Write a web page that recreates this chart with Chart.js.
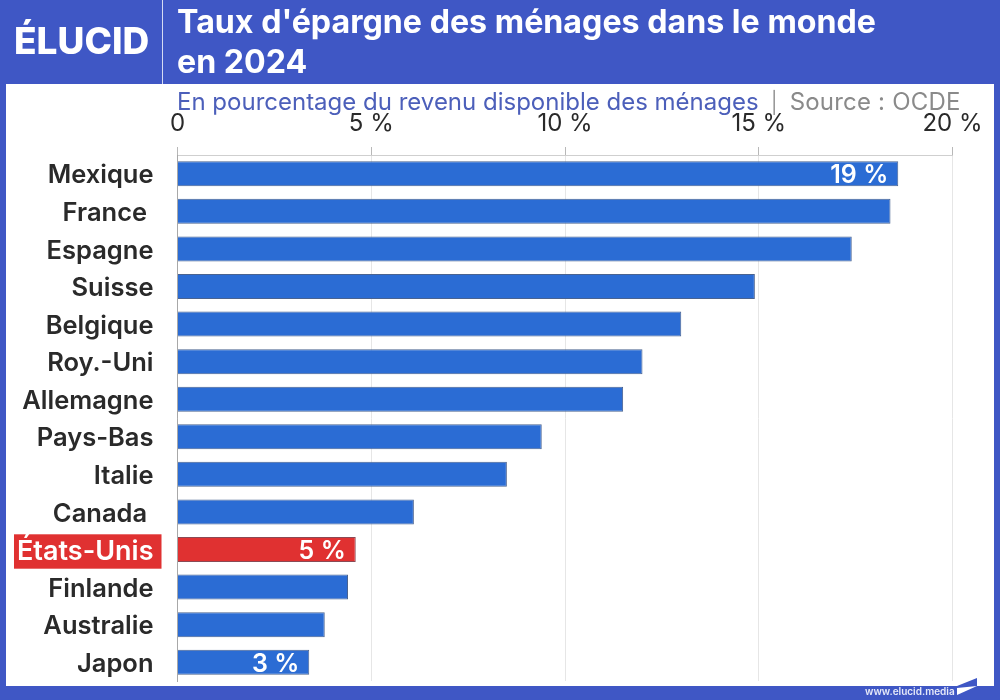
<!DOCTYPE html>
<html lang="fr">
<head>
<meta charset="utf-8">
<title>Taux d'épargne des ménages dans le monde en 2024</title>
<script src="https://cdn.jsdelivr.net/npm/chart.js@4/dist/chart.umd.min.js"></script>
<style>
  html, body { margin: 0; padding: 0; background: #3f57c5; }
  body { position: relative; width: 1000px; height: 700px; overflow: hidden; font-family: Inter, sans-serif; }
  #panel { position: absolute; left: 6px; top: 84px; width: 988px; height: 602px; background: #fff; }
  #result_chart { position: absolute; left: 0; top: 0; }
  #divider { position: absolute; left: 162px; top: 0; width: 1px; height: 84px; background: #d5dbf3; }
  #logo { position: absolute; left: 14px; top: 19px; color: #fff; font-size: 37px; font-weight: 800; line-height: 44px; }
  #title { position: absolute; left: 177px; top: 2px; color: #fff; font-size: 32.2px; font-weight: 700; line-height: 40px; white-space: nowrap; }
  #subtitle { position: absolute; left: 177px; top: 87px; font-size: 24px; line-height: 30px; color: #4c5fba; white-space: nowrap; }
  #subtitle .sep { color: #999; margin: 0 12px 0 12px; font-size: 21px; }
  #subtitle .source { color: #8a8a8a; letter-spacing: 0.2px; }
  #site { position: absolute; left: 865px; top: 684px; color: #e6e9f8; font-size: 10px; font-weight: 600; line-height: 14px; }
  #mark { position: absolute; left: 950px; top: 670px; }
</style>
</head>
<body>
<div id="panel"></div>
<canvas id="result_chart" width="1000" height="700"></canvas>
<div id="divider"></div>
<div id="logo">ÉLUCID</div>
<div id="title">Taux d'épargne des ménages dans le monde<br>en 2024</div>
<div id="subtitle">En pourcentage du revenu disponible des ménages<span class="sep">|</span><span class="source">Source : OCDE</span></div>
<div id="site">www.elucid.media</div>
<svg id="mark" width="40" height="30">
  <polygon points="7,16 27,8 27,16" fill="#3f57c5"/>
  <polygon points="7,18 27,16 7,25" fill="#fff"/>
</svg>
<script>
const categories = ["Mexique", "France ", "Espagne", "Suisse", "Belgique", "Roy.-Uni", "Allemagne", "Pays-Bas", "Italie", "Canada ", "États-Unis", "Finlande", "Australie", "Japon"];
const savingsRates = [18.6, 18.4, 17.4, 14.9, 13.0, 12.0, 11.5, 9.4, 8.5, 6.1, 4.6, 4.4, 3.8, 3.4];
const barLabels = ["19 %", "", "", "", "", "", "", "", "", "", "5 %", "", "", "3 %"];
const tickLabels = ["0", "5 %", "10 %", "15 %", "20 %"];
const highlighted = "États-Unis";

const isHighlighted = (index) => categories[index] === highlighted;

// the few values printed inside the bars
const barLabelPlugin = {
  id: "barLabels",
  afterDatasetsDraw(chart) {
    const ctx = chart.ctx;
    ctx.save();
    ctx.font = "600 25px Inter";
    ctx.fillStyle = "#fff";
    ctx.textAlign = "right";
    ctx.textBaseline = "middle";
    chart.getDatasetMeta(0).data.forEach((bar, i) => {
      if (barLabels[i]) ctx.fillText(barLabels[i], bar.x - 10, bar.y + 2);
    });
    ctx.restore();
  }
};

new Chart(document.getElementById("result_chart"), {
  type: "bar",
  data: {
    labels: categories,
    datasets: [
      {
        data: savingsRates,
        backgroundColor: (c) => isHighlighted(c.dataIndex) ? "#e03131" : "#2b6cd4",
        borderColor: (c) => isHighlighted(c.dataIndex) ? "#8a4a55" : "#4a6390",
        borderWidth: 1,
        barPercentage: 0.665,
        categoryPercentage: 1
      }
    ]
  },
  options: {
    indexAxis: "y",
    responsive: false,
    animation: false,
    layout: {
      autoPadding: false,
      padding: { left: 0, right: 47.5, top: 0, bottom: 19 }
    },
    scales: {
      x: {
        position: "top",
        min: 0,
        max: 20,
        afterFit: (scale) => { scale.height = 155; },
        border: { color: "#cfcfcf" },
        grid: {
          color: (c) => c.index === 0 ? "#a8a8a8" : "#e6e6e6",
          tickColor: "#b8b8b8",
          tickLength: 8
        },
        ticks: {
          stepSize: 5,
          padding: 9,
          maxRotation: 0,
          color: "#2a2a2a",
          font: { family: "Inter", size: 24 },
          callback: (value) => tickLabels[value / 5]
        }
      },
      y: {
        afterFit: (scale) => {
          scale.width = 177.5;
          scale.paddingTop = 0;
          scale.paddingBottom = 0;
        },
        border: { color: "#a8a8a8" },
        grid: { display: false },
        ticks: {
          autoSkip: false,
          padding: 16,
          labelOffset: 2,
          color: (c) => isHighlighted(c.index) ? "#fff" : "#2a2a2a",
          font: (c) => ({ family: "Inter", size: isHighlighted(c.index) ? 27 : 25.5, weight: "600" }),
          showLabelBackdrop: (c) => isHighlighted(c.index),
          backdropColor: "#e03131",
          backdropPadding: { left: 3, right: 8, top: 1, bottom: 1 }
        }
      }
    },
    plugins: {
      legend: { display: false },
      tooltip: { enabled: false }
    }
  },
  plugins: [barLabelPlugin]
});
</script>
</body>
</html>
